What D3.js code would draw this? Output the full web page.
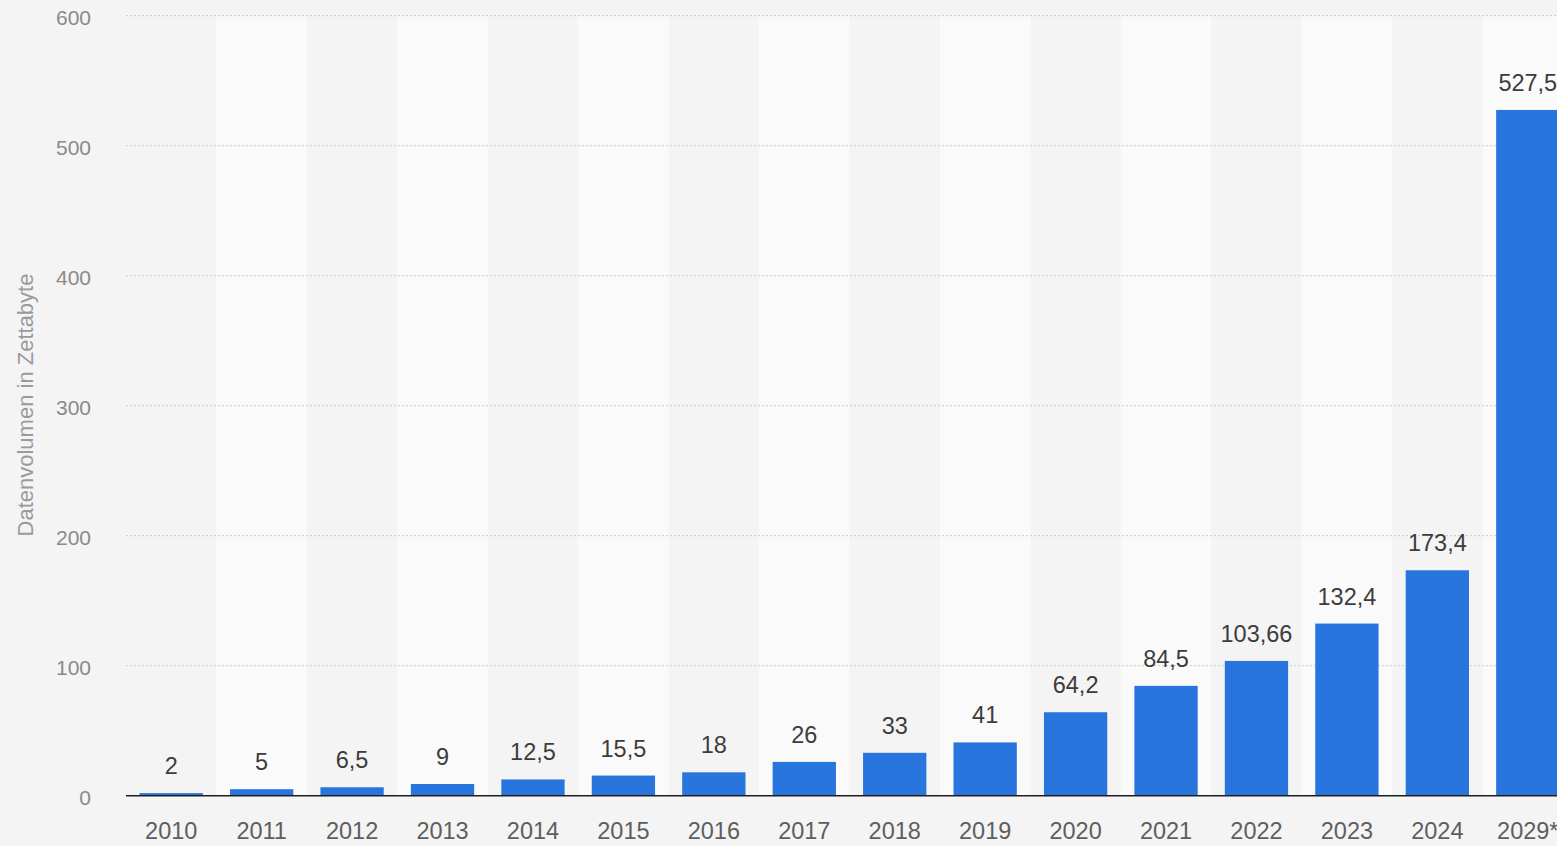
<!DOCTYPE html>
<html>
<head>
<meta charset="utf-8">
<script src="https://cdn.jsdelivr.net/npm/d3@7"></script>
<style>
  html, body { margin: 0; padding: 0; background: #f4f4f4; overflow: hidden; }
  svg { display: block; font-family: "Liberation Sans", Arial, sans-serif; }
</style>
</head>
<body>
<div id="chart"></div>
<script>
// Daten
const years = ["2010", "2011", "2012", "2013", "2014", "2015", "2016", "2017",
  "2018", "2019", "2020", "2021", "2022", "2023", "2024", "2029*"];
const values = [2, 5, 6.5, 9, 12.5, 15.5, 18, 26, 33, 41, 64.2, 84.5, 103.66, 132.4, 173.4, 527.5];
const yTicks = [0, 100, 200, 300, 400, 500, 600];
const yTitle = "Datenvolumen in Zettabyte";

const width = 1557, height = 846;
const plotLeft = 126, plotRight = 1573, plotTop = 15.7, plotBottom = 795.7;

const svg = d3.select("#chart")
  .append("svg")
  .attr("width", width)
  .attr("height", height);

const x = d3.scaleBand().domain(years).range([plotLeft, plotRight])
  .paddingInner(0.3).paddingOuter(0.15);
const stripes = d3.scaleBand().domain(years).range([plotLeft, plotRight]).padding(0);
const y = d3.scaleLinear().domain([0, 600]).range([plotBottom, plotTop]);

const fmt = v => String(v).replace(".", ",");

// Hintergrundstreifen
svg.append("g")
  .selectAll("rect")
  .data(years.filter((d, i) => i % 2 === 1))
  .enter()
  .append("rect")
  .attr("x", d => stripes(d))
  .attr("y", y(600))
  .attr("width", stripes.bandwidth())
  .attr("height", y(0) - y(600))
  .attr("fill", "#fafafa");

// Gitterlinien
svg.append("g")
  .selectAll("line")
  .data(yTicks.filter(t => t > 0))
  .enter()
  .append("line")
  .attr("x1", plotLeft)
  .attr("x2", width)
  .attr("y1", d => y(d))
  .attr("y2", d => y(d))
  .attr("stroke", "#c8c8c8")
  .attr("stroke-width", 1)
  .attr("stroke-dasharray", "2,2");

// Y-Achse (Beschriftung)
const yAxis = svg.append("g")
  .attr("transform", `translate(${plotLeft - 35},2)`)
  .call(d3.axisLeft(y).tickValues(yTicks).tickSize(0).tickPadding(0));
yAxis.select(".domain").remove();
yAxis.selectAll("text")
  .attr("fill", "#8a8a8a")
  .attr("font-size", "21px")
  .attr("font-family", "Liberation Sans, Arial, sans-serif");

svg.append("text")
  .attr("transform", `translate(33,405) rotate(-90)`)
  .attr("text-anchor", "middle")
  .attr("fill", "#9a9a9a")
  .attr("font-size", "22px")
  .text(yTitle);

// Balken
svg.append("g")
  .selectAll("rect")
  .data(values)
  .enter()
  .append("rect")
  .attr("x", (d, i) => x(years[i]))
  .attr("y", d => y(d))
  .attr("width", x.bandwidth())
  .attr("height", d => y(0) - y(d))
  .attr("fill", "#2876dd");

// Werte über den Balken
svg.append("g")
  .selectAll("text")
  .data(values)
  .enter()
  .append("text")
  .attr("x", (d, i) => x(years[i]) + x.bandwidth() / 2)
  .attr("y", d => y(d) - 19)
  .attr("text-anchor", "middle")
  .attr("fill", "#3c3c3c")
  .attr("font-size", "23.5px")
  .text(d => fmt(d));

// X-Achse
const xAxis = svg.append("g")
  .attr("transform", `translate(0,${plotBottom})`)
  .call(d3.axisBottom(x).tickSize(0).tickPadding(0));
xAxis.select(".domain").remove();
xAxis.selectAll("text")
  .attr("y", 43)
  .attr("dy", 0)
  .attr("fill", "#5e5e5e")
  .attr("font-size", "23.5px")
  .attr("font-family", "Liberation Sans, Arial, sans-serif");

svg.append("line")
  .attr("x1", plotLeft)
  .attr("x2", width)
  .attr("y1", y(0))
  .attr("y2", y(0))
  .attr("stroke", "#1e1e1e")
  .attr("stroke-width", 1.6);
</script>
</body>
</html>
